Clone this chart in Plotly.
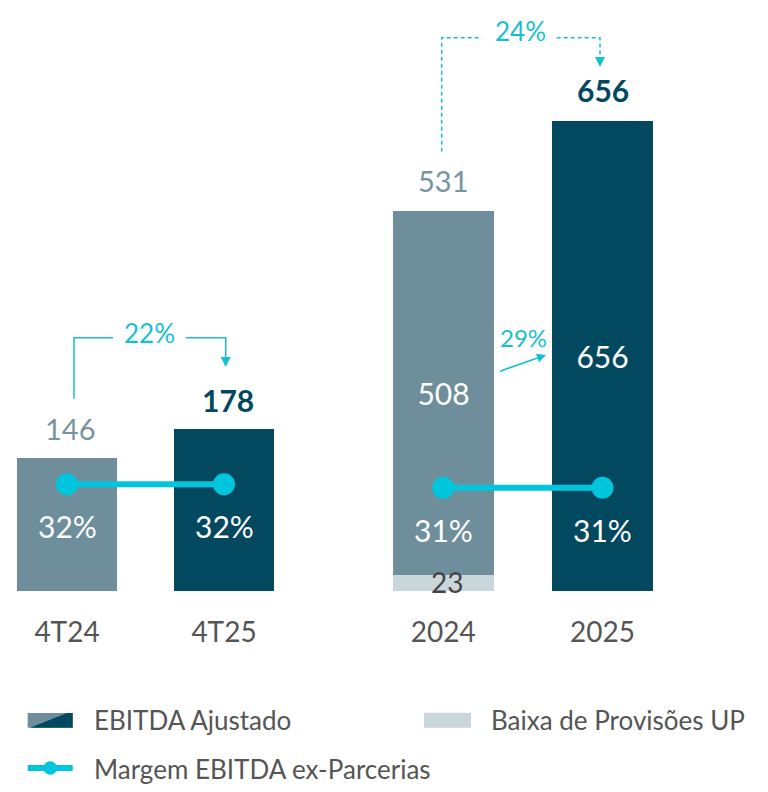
import plotly.graph_objects as go

# ---------------- data ----------------
categories_q = ["4T24", "4T25"]
categories_y = ["2024", "2025"]
ebitda_q = [146, 178]
ebitda_y = [508, 656]
baixa_y = [23, 0]
total_y = [531, 656]
margem_q = [32, 32]
margem_y = [31, 31]
growth_q = "22%"
growth_y = "24%"
growth_ex = "29%"

# ---------------- style ----------------
W, H = 768, 792
GRAY = "#6e8e9b"
DARK = "#02485f"
LIGHT = "#c9d6dc"
CYAN = "#00c6dd"
CYAN_T = "#17bfd3"
TXT = "#555555"
FONT = "Lato, 'Open Sans', sans-serif"


def px(x):
    return x / W


def py(y):
    return 1 - y / H


y_dom = [py(591), 1.0]
left_dom = [px(0), px(320)]
right_dom = [px(370), px(768)]

fig = go.Figure()

# bars (quarterly)
fig.add_trace(go.Bar(x=[0, 1], y=ebitda_q, marker=dict(color=[GRAY, DARK], line_width=0),
                     width=0.643, xaxis="x", yaxis="y", showlegend=False, hoverinfo="skip"))
# bars (annual)
fig.add_trace(go.Bar(x=[0, 1], y=baixa_y, marker=dict(color=LIGHT, line_width=0),
                     width=0.638, xaxis="x2", yaxis="y2", showlegend=False, hoverinfo="skip"))
fig.add_trace(go.Bar(x=[0, 1], y=ebitda_y, marker=dict(color=[GRAY, DARK], line_width=0),
                     width=0.638, xaxis="x2", yaxis="y2", showlegend=False,
                     text=[str(v) for v in ebitda_y], textposition="inside",
                     insidetextanchor="middle", textangle=0,
                     textfont=dict(color="white", size=30, family=FONT), hoverinfo="skip"))
# margin lines
fig.add_trace(go.Scatter(x=[0, 1], y=margem_q, mode="lines+markers", xaxis="x", yaxis="y3",
                         line=dict(color=CYAN, width=6), marker=dict(size=22, color=CYAN),
                         showlegend=False, hoverinfo="skip"))
fig.add_trace(go.Scatter(x=[0, 1], y=margem_y, mode="lines+markers", xaxis="x2", yaxis="y4",
                         line=dict(color=CYAN, width=6), marker=dict(size=22, color=CYAN),
                         showlegend=False, hoverinfo="skip"))

ann = []
# top labels
ann.append(dict(x=0, y=ebitda_q[0], xref="x", yref="y", yshift=30, text=str(ebitda_q[0]),
                font=dict(size=29, color="#7694a0", family=FONT), showarrow=False, xshift=3))
ann.append(dict(x=1, y=ebitda_q[1], xref="x", yref="y", yshift=29, text="<b>%d</b>" % ebitda_q[1],
                font=dict(size=30, color=DARK, family=FONT), showarrow=False, xshift=4))
ann.append(dict(x=0, y=total_y[0], xref="x2", yref="y2", yshift=30, text=str(total_y[0]),
                font=dict(size=29, color="#7694a0", family=FONT), showarrow=False))
ann.append(dict(x=1, y=total_y[1], xref="x2", yref="y2", yshift=31, text="<b>%d</b>" % total_y[1],
                font=dict(size=30, color=DARK, family=FONT), showarrow=False))
# 23 label
ann.append(dict(x=0, y=baixa_y[0] / 2, xref="x2", yref="y2", text=str(baixa_y[0]), xshift=4, yshift=1,
                font=dict(size=28, color="#444444", family=FONT), showarrow=False))
# margin labels
for i, v in enumerate(margem_q):
    ann.append(dict(x=i, y=v, xref="x", yref="y3", yshift=-42, text="%d%%" % v,
                    font=dict(size=30, color="white", family=FONT), showarrow=False))
for i, v in enumerate(margem_y):
    ann.append(dict(x=i, y=v, xref="x2", yref="y4", yshift=-42, text="%d%%" % v,
                    font=dict(size=30, color="white", family=FONT), showarrow=False))


def pann(x, y, text, size, color, xanchor="center"):
    return dict(x=px(x), y=py(y), xref="paper", yref="paper", xanchor=xanchor, yanchor="middle",
                text=text, showarrow=False, font=dict(size=size, color=color, family=FONT))


# growth labels
ann.append(pann(149, 333, growth_q, 26, CYAN_T))
ann.append(pann(520, 31, growth_y, 26, CYAN_T))
ann.append(pann(523, 338, growth_ex, 24, CYAN_T))
ann.append(dict(x=px(546), y=py(355), xref="paper", yref="paper", text="", showarrow=True,
                ax=-47.5, ay=16.7, arrowhead=2, arrowsize=1.2, arrowwidth=1.5, arrowcolor=CYAN_T))

# legend texts
ann.append(pann(92, 720, "EBITDA Ajustado", 26, TXT, "left"))
ann.append(pann(489, 720, "Baixa de Provisões UP", 26, TXT, "left"))
ann.append(pann(92, 769, "Margem EBITDA ex-Parcerias", 26, TXT, "left"))

shapes = []
# left bracket (solid)
shapes.append(dict(type="path", xref="paper", yref="paper",
                   path="M %f,%f L %f,%f L %f,%f" % (px(74), py(398.7), px(74), py(337.7), px(113), py(337.7)),
                   line=dict(color=CYAN_T, width=1.5)))
shapes.append(dict(type="path", xref="paper", yref="paper",
                   path="M %f,%f L %f,%f L %f,%f" % (px(185.7), py(337.7), px(225.7), py(337.7), px(225.7), py(358)),
                   line=dict(color=CYAN_T, width=1.5)))
shapes.append(dict(type="path", xref="paper", yref="paper",
                   path="M %f,%f L %f,%f L %f,%f Z" % (px(220.7), py(357), px(230.7), py(357), px(225.7), py(367)),
                   fillcolor=CYAN_T, line=dict(width=0)))
# right bracket (dashed)
shapes.append(dict(type="path", xref="paper", yref="paper",
                   path="M %f,%f L %f,%f L %f,%f" % (px(441.7), py(151.7), px(441.7), py(37.7), px(482), py(37.7)),
                   line=dict(color=CYAN_T, width=1.5, dash="4px,3px")))
shapes.append(dict(type="path", xref="paper", yref="paper",
                   path="M %f,%f L %f,%f L %f,%f" % (px(556.7), py(37.7), px(600), py(37.7), px(600), py(58)),
                   line=dict(color=CYAN_T, width=1.5, dash="4px,3px")))
shapes.append(dict(type="path", xref="paper", yref="paper",
                   path="M %f,%f L %f,%f L %f,%f Z" % (px(595), py(57), px(605), py(57), px(600), py(67)),
                   fillcolor=CYAN_T, line=dict(width=0)))

# legend icons
shapes.append(dict(type="rect", xref="paper", yref="paper", x0=px(27.7), x1=px(72.7), y0=py(727.7), y1=py(713),
                   fillcolor=GRAY, line=dict(width=0)))
shapes.append(dict(type="path", xref="paper", yref="paper",
                   path="M %f,%f L %f,%f L %f,%f L %f,%f Z" % (px(30), py(727.7), px(72.7), py(727.7),
                                                               px(72.7), py(713), px(67), py(713)),
                   fillcolor=DARK, line=dict(width=0)))
shapes.append(dict(type="rect", xref="paper", yref="paper", x0=px(424), x1=px(471), y0=py(727.7), y1=py(712.7),
                   fillcolor=LIGHT, line=dict(width=0)))
shapes.append(dict(type="line", xref="paper", yref="paper", x0=px(27.7), x1=px(72.7), y0=py(768), y1=py(768),
                   line=dict(color=CYAN, width=6)))
shapes.append(dict(type="circle", xref="paper", yref="paper", x0=px(43.5), x1=px(57), y0=py(774.7), y1=py(761.3),
                   fillcolor=CYAN, line=dict(width=0)))

axis_common = dict(showgrid=False, zeroline=False, showline=False, ticks="",
                   tickfont=dict(size=28, color=TXT, family=FONT), ticklabelstandoff=22)

fig.update_layout(
    width=W, height=H, autosize=False,
    margin=dict(l=0, r=0, t=0, b=0, pad=0),
    paper_bgcolor="white", plot_bgcolor="rgba(0,0,0,0)",
    barmode="stack", bargap=0,
    font=dict(family=FONT),
    xaxis=dict(domain=left_dom, range=[-67 / 157, (320 - 67) / 157], tickvals=[0, 1], ticktext=categories_q,
               anchor="y", **axis_common),
    xaxis2=dict(domain=right_dom, range=[(370 - 443.3) / 159.2, (768 - 443.3) / 159.2], tickvals=[0, 1],
                ticktext=categories_y, anchor="y2", **axis_common),
    yaxis=dict(domain=y_dom, range=[0, 591 / 0.908], visible=False, anchor="x"),
    yaxis2=dict(domain=y_dom, range=[0, 591 / 0.7163], visible=False, anchor="x2"),
    yaxis3=dict(overlaying="y", anchor="x", range=[0, 177.3], visible=False),
    yaxis4=dict(overlaying="y2", anchor="x2", range=[0, 177.3], visible=False),
    annotations=ann, shapes=shapes, showlegend=False,
)

fig.write_html("out.html", config={"displayModeBar": False},
               post_script="document.body.style.margin='0';document.body.style.overflow='hidden';")
